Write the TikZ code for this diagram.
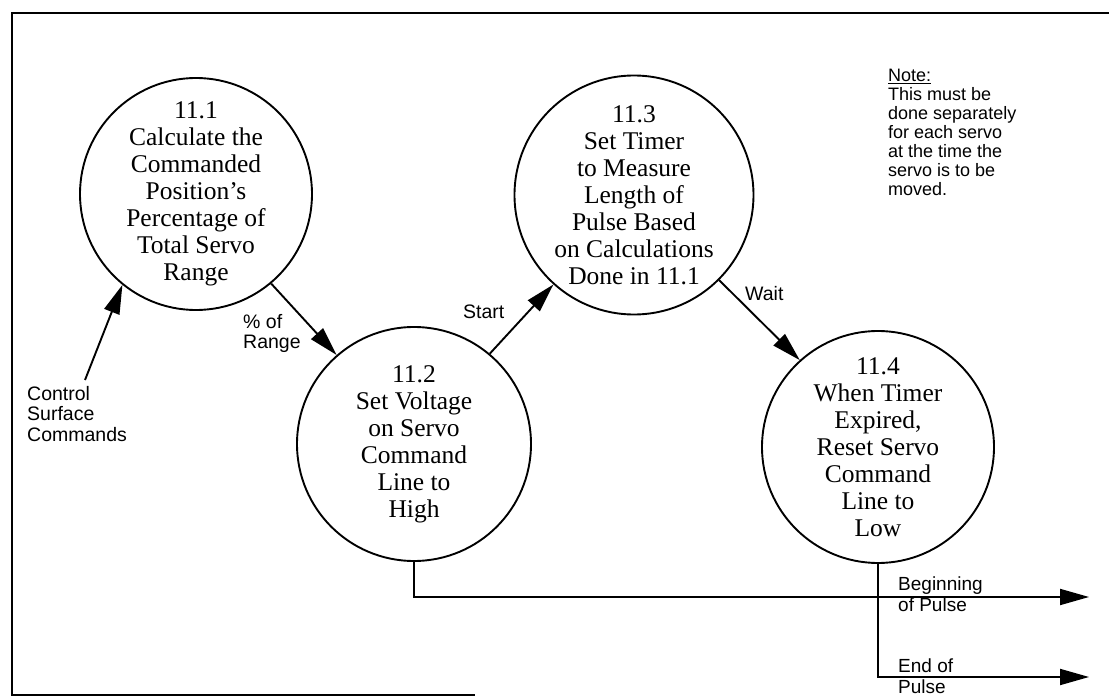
\documentclass[tikz,border=0pt]{standalone}
\usepackage{fontspec}
\setmainfont{Liberation Serif}
\newfontfamily\labelfont{Liberation Sans}
\usetikzlibrary{arrows.meta}
\begin{document}
\begin{tikzpicture}[x=1pt,y=-1pt,
  proc/.style={circle, draw, line width=1.9pt, inner sep=0pt,
    align=center, font=\fontsize{25.5}{27}\selectfont},
  flow/.style={line width=1.9pt, -{Triangle[length=29pt,width=16pt]}},
  lbl/.style={align=left, inner sep=0pt, font=\labelfont\fontsize{19.5}{20.5}\selectfont},
  notetext/.style={lbl, font=\labelfont\fontsize{18}{19}\selectfont},
  pulse/.style={lbl, font=\labelfont\fontsize{19}{21}\selectfont},
  frame/.style={line width=1.9pt}]
\useasboundingbox (0,0) rectangle (1109,698);

% page frame (open on the right)
\draw[frame] (1109,13) -- (12,13) -- (12,695) -- (475,695);

% processes
\node[proc, minimum size=232pt] (p1) at (196,194) {11.1\\Calculate the\\Commanded\\Position’s\\Percentage of\\Total Servo\\Range};
\node[proc, minimum size=234pt] (p2) at (414,444) {11.2\\Set Voltage\\on Servo\\Command\\Line to\\High};
\node[proc, minimum size=234pt] (p3) at (634,195) {11.3\\Set Timer\\to Measure\\Length of\\Pulse Based\\on Calculations\\Done in 11.1};
\node[proc, minimum size=232pt] (p4) at (878,447) {11.4\\When Timer\\Expired,\\Reset Servo\\Command\\Line to\\Low};

% note
\node[notetext, anchor=north west] (note) at (888,69) {\underline{Note:}\\This must be\\done separately\\for each servo\\at the time the\\servo is to be\\moved.};

% input
\node[lbl, anchor=north west] (ctl) at (27,386) {Control\\Surface\\Commands};
\coordinate (cin) at (85,380);
\draw[flow] (cin) -- (p1.231);

% flows between processes
\draw[flow] (p1.-50) -- (p2.131);
\node[lbl, anchor=north west] (pct) at (243,314) {\% of\\Range};
\draw[flow] (p2.50) -- (p3.228);
\node[lbl, anchor=base west] (start) at (463,318) {Start};
\draw[flow] (p3.-45) -- (p4.132);
\node[lbl, anchor=base west] (wait) at (745,300) {Wait};

% outputs
\coordinate (bout) at (1089,597);
\coordinate (eout) at (1089,677);
\draw[flow] (p2.south) |- (bout);
\draw[flow] (p4.south) |- (eout);
\node[pulse, anchor=north west] (beg) at (898,577) {Beginning\\of Pulse};
\node[pulse, anchor=north west] (endp) at (898,659) {End of\\Pulse};
\end{tikzpicture}
\end{document}
